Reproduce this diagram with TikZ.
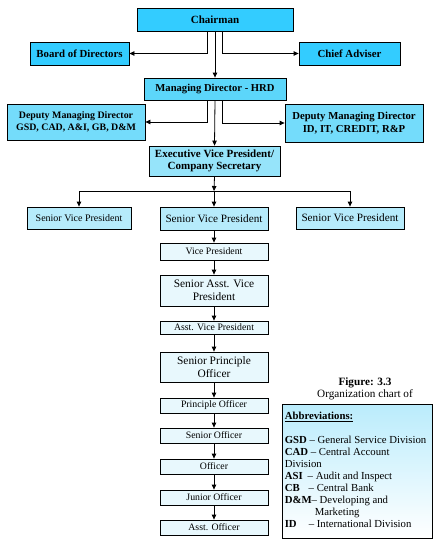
\documentclass[tikz,border=0pt]{standalone}
\usepackage{fontspec}
\setmainfont{Liberation Serif}
\usetikzlibrary{arrows.meta}
\definecolor{chaircyan}{RGB}{51,204,255}
\definecolor{mdcyan}{RGB}{92,214,250}
\definecolor{evpblue}{RGB}{150,228,250}
\definecolor{svpblue}{RGB}{182,235,251}
\definecolor{rankblue}{RGB}{232,248,253}
\definecolor{abbrblue}{RGB}{186,236,252}

\begin{document}
\begin{tikzpicture}[
    x=1pt, y=-1pt,
    sz/.style 2 args={minimum width=#1pt, minimum height=#2pt},
    box/.style={rectangle, draw=black, line width=0.8pt, align=center, inner sep=0.5pt},
    topbox/.style={box, fill=chaircyan, font=\bfseries\fontsize{10.8}{11}\selectfont},
    mdbox/.style={box, fill=mdcyan, font=\bfseries\fontsize{10.6}{11}\selectfont},
    depbox/.style={box, fill=mdcyan!85!white, font=\bfseries\fontsize{9.9}{11.5}\selectfont},
    evpbox/.style={box, fill=evpblue, font=\bfseries\fontsize{11}{12.5}\selectfont},
    svpbox/.style={box, fill=svpblue, font=\fontsize{11.2}{12}\selectfont},
    rankbox/.style={box, fill=rankblue, font=\fontsize{9.8}{11}\selectfont},
    bigrank/.style={box, fill=rankblue, font=\fontsize{11.4}{13}\selectfont},
    a/.style={-{Triangle[length=5pt,width=4.5pt]}, line width=0.8pt},
    l/.style={line width=0.8pt}
]
\useasboundingbox (0,0) rectangle (442,543);

% top management
\node[topbox, sz={156}{23}, font=\bfseries\fontsize{11}{12}\selectfont] (chair) at (215,19.5) {Chairman};
\node[topbox, sz={99}{23}]  (board)   at (79.5,53.5) {Board of Directors};
\node[topbox, sz={101}{23}] (adviser) at (349.5,53.5) {Chief Adviser};
\node[mdbox,  sz={142}{22}] (mdhrd)   at (215,89)    {Managing Director - HRD};
\node[depbox, sz={138}{36}] (dmdl)    at (76,122)
    {Deputy Managing Director\\GSD, CAD, A\&I, GB, D\&M};
\node[depbox, sz={138}{38}, font=\bfseries\fontsize{10.7}{12.5}\selectfont] (dmdr) at (354,123)
    {Deputy Managing Director\\ID, IT, CREDIT, R\&P};
\node[evpbox, sz={131}{30}] (evp)     at (214.5,161)
    {Executive Vice President/\\Company Secretary};

% senior vice presidents
\node[svpbox, sz={104}{22}, font=\fontsize{10}{11}\selectfont] (svpl) at (79,218) {Senior Vice President};
\node[svpbox, sz={108}{23}] (svpm) at (214,218.5) {Senior Vice President};
\node[svpbox, sz={108}{22}] (svpr) at (350,218)   {Senior Vice President};
\coordinate (split) at (214,191);

% ranks
\node[rankbox, sz={108}{17}] (vp)   at (214,251.5) {Vice President};
\node[bigrank, sz={108}{31}] (savp) at (214,290.5) {Senior Asst. Vice\\President};
\node[rankbox, sz={108}{13}] (avp)  at (214,327.5) {Asst. Vice President};
\node[bigrank, sz={108}{30}] (spo)  at (214,367)   {Senior Principle\\Officer};
\node[rankbox, sz={108}{15}] (po)   at (214,405.5) {Principle Officer};
\node[rankbox, sz={108}{15}] (so)   at (214,435.5) {Senior Officer};
\node[rankbox, sz={108}{15}] (off)  at (214,466.5) {Officer};
\node[rankbox, sz={108}{15}] (jo)   at (214,497.5) {Junior Officer};
\node[rankbox, sz={108}{15}] (ao)   at (214,527.5) {Asst. Officer};

% caption and abbreviations
\node[align=center, font=\fontsize{11.2}{12}\selectfont] (fig) at (365,389)
    {\textbf{Figure: 3.3}\\Organization chart of};
\node[rectangle, draw=black, line width=0.8pt, top color=abbrblue, bottom color=white,
      sz={150}{134}] (abbr) at (357,471) {};
\node[anchor=north west, align=left, inner sep=0pt, font=\fontsize{10.75}{12}\selectfont]
    (abbrtext) at ([xshift=3pt, yshift=-8pt]abbr.north west)
    {\underline{\textbf{Abbreviations:}}\\[12pt]
     \textbf{GSD} -- General Service Division\\
     \textbf{CAD} -- Central Account\\
     Division\\
     \textbf{ASI}\hspace{5pt}-- Audit and Inspect\\
     \textbf{CB}\hspace{9pt}-- Central Bank\\
     \textbf{D\&M}-- Developing and\\
     \hspace{30pt}Marketing\\
     \textbf{ID}\hspace{12pt}-- International Division};

% connectors
\draw[a] ([xshift=-8pt]chair.south) |- (board.east);
\draw[a] ([xshift=7pt]chair.south) |- (adviser.west);
\draw[a] (chair.south) -- (mdhrd.north);
\draw[a] ([xshift=-8pt]mdhrd.south) |- (dmdl.east);
\draw[a] ([xshift=7pt]mdhrd.south) |- (dmdr.west);
\draw[a] (mdhrd.south) -- (evp.north);
\draw[a] (evp.south) -- (split);
\draw[l] (split) -- (split -| svpl.north);
\draw[l] (split) -- (split -| svpr.north);
\draw[a] (split -| svpl.north) -- (svpl.north);
\draw[a] (split -| svpr.north) -- (svpr.north);
\draw[a] (split) -- (svpm.north);
\draw[a] (svpm) -- (vp);
\draw[a] (vp) -- (savp);
\draw[a] (savp) -- (avp);
\draw[a] (avp) -- (spo);
\draw[a] (spo) -- (po);
\draw[a] (po) -- (so);
\draw[a] (so) -- (off);
\draw[a] (off) -- (jo);
\draw[a] (jo) -- (ao);
\end{tikzpicture}
\end{document}
